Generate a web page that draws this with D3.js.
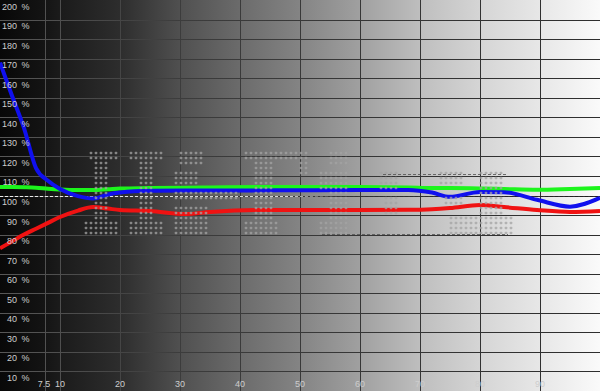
<!doctype html>
<html>
  <head>
    <script src="https://cdnjs.cloudflare.com/ajax/libs/d3/7.8.5/d3.min.js"></script>
    <style>
      body { margin: 0; background: #000; }
      text { font-family: "Liberation Sans", Arial, sans-serif; font-size: 9px; fill: #cdcdcd; }
      path.curve { fill: none; stroke-width: 4; stroke-linejoin: round; }
    </style>
  </head>
  <body>
    <svg id="chart" width="600" height="391"></svg>
    <script>
      // stimulus level (%) and measured luminance per channel (%)
      var stimulus = [0, 2, 4, 6, 8, 10, 13, 15.5, 18, 20, 25, 31, 35, 43, 50, 60, 68, 72, 75, 80, 84, 89.5, 95, 100];
      var redValues = [73, 76.5, 80, 83, 86, 89, 92.3, 94.1, 93.3, 92.6, 92.1, 90.5, 91.6, 92.6, 92.6, 92.6, 92.7, 93, 93.6, 95.1, 94.1, 92.6, 91.6, 92.1];
      var greenValues = [104.3, 104.3, 104.2, 104, 103.5, 103.1, 102.8, 102.8, 103.2, 103.6, 103.8, 104, 104.1, 104.3, 104.3, 104.3, 104.1, 103.8, 103.8, 103.6, 103.3, 102.9, 103.3, 103.8];
      var blueValues = [168, 151, 134.5, 114, 107.5, 103.3, 99.7, 98.5, 100.5, 101.5, 102.4, 102.5, 102.5, 102.6, 102.7, 102.8, 102.8, 101.5, 99.3, 101.8, 101.7, 97.8, 94.3, 98.8];

      var xTicks = [7.5, 10, 20, 30, 40, 50, 60, 70, 80, 90];
      var yTicks = d3.range(10, 201, 10);

      // dotted watermark, blocks of [col0, col1, row0, row1]
      var logoBlocks = [
        [1, 6, 0, 1], [2, 4, 2, 13], [0, 6, 14, 16],
        [9, 15, 0, 1], [11, 13, 2, 13], [9, 15, 14, 16],
        [19, 23, 0, 2], [18, 22, 4, 6], [18, 30, 8, 9], [18, 24, 11, 16],
        [32, 44, 0, 1], [34, 37, 2, 13], [43, 44, 2, 4], [32, 38, 14, 16],
        [49, 52, 0, 2], [47, 52, 4, 7], [49, 52, 8, 13], [47, 52, 14, 16],
        [59, 62, 4, 7], [60, 62, 9, 12],
        [71, 75, 4, 6], [72, 75, 9, 10], [79, 83, 4, 12], [73, 85, 13, 16]
      ];

      var width = 600, height = 391;
      var svg = d3.select("#chart");
      var x = d3.scaleLinear().domain([0, 100]).range([0, width]);
      var y = d3.scaleLinear().domain([0, 200]).range([height, 0]);

      var defs = svg.append("defs");
      function hGradient(id, stops) {
        var g = defs.append("linearGradient").attr("id", id)
          .attr("gradientUnits", "userSpaceOnUse")
          .attr("x1", 0).attr("y1", 0).attr("x2", width).attr("y2", 0);
        stops.forEach(function(s) {
          g.append("stop").attr("offset", s[0]).attr("stop-color", d3.rgb(s[1], s[1], s[1]));
        });
      }
      hGradient("bg", [[0, 8], [0.075, 20], [0.1, 27], [0.2, 45], [0.3, 80], [0.4, 107], [0.5, 132],
        [0.6, 160], [0.7, 190], [0.8, 213], [0.9, 231], [1, 250]]);
      hGradient("gridStroke", [[0, 88], [0.3, 60], [1, 46]]);
      hGradient("refStroke", [[0, 235], [0.48, 215], [0.56, 50], [1, 30]]);

      svg.append("rect").attr("width", width).attr("height", height).attr("fill", "url(#bg)");

      // grid
      svg.append("g").selectAll("line").data(yTicks.slice(0, -1)).enter().append("line")
        .attr("x1", 0).attr("x2", width)
        .attr("y1", d => Math.round(y(d)) + 0.5).attr("y2", d => Math.round(y(d)) + 0.5)
        .attr("stroke", "url(#gridStroke)");
      svg.append("g").selectAll("line").data(xTicks).enter().append("line")
        .attr("x1", d => Math.round(x(d)) + 0.5).attr("x2", d => Math.round(x(d)) + 0.5)
        .attr("y1", 0).attr("y2", height)
        .attr("stroke", "url(#gridStroke)");

      // 100 % reference
      svg.append("line")
        .attr("x1", 0).attr("x2", width)
        .attr("y1", Math.round(y(100)) + 0.5).attr("y2", Math.round(y(100)) + 0.5)
        .attr("stroke", "url(#refStroke)").attr("stroke-dasharray", "3,2");

      var line = d3.line()
        .x((d, i) => x(stimulus[i]))
        .y(d => y(d))
        .curve(d3.curveMonotoneX);

      [[redValues, "#f01212"], [greenValues, "#1cf51c"], [blueValues, "#1010ee"]].forEach(function(s) {
        svg.append("path").attr("class", "curve")
          .attr("d", line(s[0]))
          .attr("stroke", s[1]);
      });

      // watermark
      var dots = [];
      logoBlocks.forEach(function(b) {
        for (var c = b[0]; c <= b[1]; c++)
          for (var r = b[2]; r <= b[3]; r++) dots.push([c, r]);
      });
      svg.append("g").attr("opacity", 0.75).selectAll("rect").data(dots).enter().append("rect")
        .attr("x", d => 86 + d[0] * 5 - 1.3).attr("y", d => 153 + d[1] * 5 - 1.3)
        .attr("width", 2.6).attr("height", 2.6).attr("rx", 0.8)
        .attr("fill", "#a4a4a4");
      var box = svg.append("g").attr("stroke", "#505050").attr("stroke-dasharray", "3,2").attr("opacity", 0.8);
      box.append("line").attr("x1", 383).attr("x2", 508).attr("y1", 174.5).attr("y2", 174.5);
      box.append("line").attr("x1", 322).attr("x2", 508).attr("y1", 234.5).attr("y2", 234.5);

      // y labels
      var yl = svg.append("g").selectAll("text").data(yTicks).enter().append("text")
        .attr("y", d => y(d) + 9.5);
      yl.append("tspan").attr("x", 17).attr("text-anchor", "end").text(d => d);
      yl.append("tspan").attr("x", 21.5).text("%");

      // x labels
      svg.append("g").selectAll("text").data(xTicks).enter().append("text")
        .attr("x", d => d === 7.5 ? x(d) - 1 : x(d))
        .attr("y", 387)
        .attr("text-anchor", "middle")
        .text(d => d);
    </script>
  </body>
</html>
